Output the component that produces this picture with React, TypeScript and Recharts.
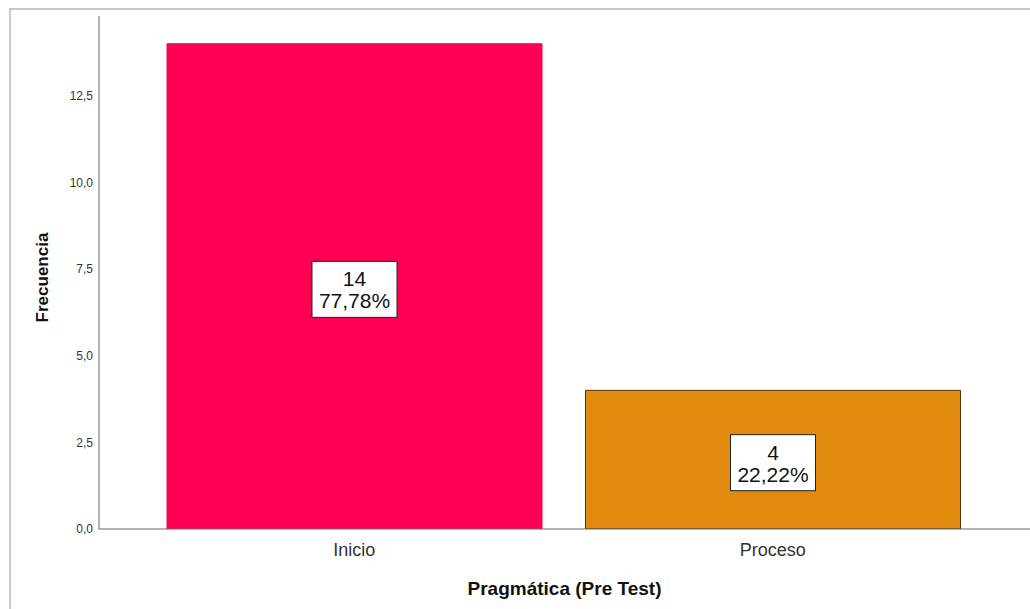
import { BarChart, Bar, XAxis, YAxis, Cell, LabelList } from "recharts";

const categories = ["Inicio", "Proceso"];
const counts = [14, 4];
const percents = ["77,78%", "22,22%"];
const yTicks = [0, 2.5, 5, 7.5, 10, 12.5];

const fills = ["#FF0052", "#E08A0E"];
const strokes = ["#FF0052", "#4d3306"];

const data = categories.map((name, i) => ({
  name,
  count: counts[i],
  pct: percents[i],
}));

const fmt = (v: number) => v.toFixed(1).replace(".", ",");

function BoxLabel(props: any) {
  const { x, y, width, height, index } = props;
  const cx = x + width / 2;
  const cy = y + height / 2 + 3;
  const w = 85;
  const h = 56;
  return (
    <g>
      <rect
        x={cx - w / 2}
        y={cy - h / 2}
        width={w}
        height={h}
        fill="#ffffff"
        stroke="#222"
        strokeWidth={1}
      />
      <text
        x={cx}
        y={cy - 3}
        textAnchor="middle"
        fontSize={21}
        fontFamily="Liberation Sans, Arial, sans-serif"
        fill="#111"
      >
        {data[index].count}
      </text>
      <text
        x={cx}
        y={cy + 19}
        textAnchor="middle"
        fontSize={21}
        fontFamily="Liberation Sans, Arial, sans-serif"
        fill="#111"
      >
        {data[index].pct}
      </text>
    </g>
  );
}

export default function App() {
  return (
    <div
      style={{
        position: "absolute",
        left: 0,
        top: 0,
        width: 1030,
        height: 609,
        background: "#fff",
        overflow: "hidden",
      }}
    >
      <div
        style={{
          position: "absolute",
          left: 9,
          top: 8,
          width: 1100,
          height: 700,
          borderLeft: "2px solid #c8c8c8",
          borderTop: "2px solid #c8c8c8",
        }}
      />
      <div style={{ position: "absolute", left: 0, top: 0 }}>
        <BarChart
          width={1030}
          height={609}
          data={data}
          margin={{ top: 16, right: 0, left: 9, bottom: 0 }}
          barCategoryGap={22}
        >
          <XAxis
            dataKey="name"
            height={80}
            padding={{ left: 46, right: 48 }}
            axisLine={{ stroke: "#666" }}
            tickLine={false}
            tickSize={0}
            tickMargin={14}
            tick={{
              fill: "#333",
              fontSize: 18,
              fontFamily: "Liberation Sans, Arial, sans-serif",
            }}
            label={{
              value: "Pragmática (Pre Test)",
              position: "insideBottom",
              offset: 14,
              style: {
                fill: "#111",
                fontSize: 19,
                fontWeight: "bold",
                fontFamily: "Liberation Sans, Arial, sans-serif",
              },
            }}
          />
          <YAxis
            width={90}
            domain={[0, 14.8]}
            ticks={yTicks}
            allowDataOverflow
            axisLine={{ stroke: "#666" }}
            tickLine={false}
            tickSize={0}
            tickMargin={6}
            tickFormatter={fmt}
            tick={{
              fill: "#333",
              fontSize: 12,
              fontFamily: "Liberation Sans, Arial, sans-serif",
            }}
            label={{
              value: "Frecuencia",
              angle: -90,
              position: "insideLeft",
              offset: 33,
              dy: 5,
              style: {
                textAnchor: "middle",
                fill: "#111",
                fontSize: 17,
                fontWeight: "bold",
                fontFamily: "Liberation Sans, Arial, sans-serif",
              },
            }}
          />
          <Bar dataKey="count" isAnimationActive={false}>
            {data.map((d, i) => (
              <Cell key={d.name} fill={fills[i]} stroke={strokes[i]} />
            ))}
            <LabelList dataKey="count" content={BoxLabel} />
          </Bar>
        </BarChart>
      </div>
    </div>
  );
}
